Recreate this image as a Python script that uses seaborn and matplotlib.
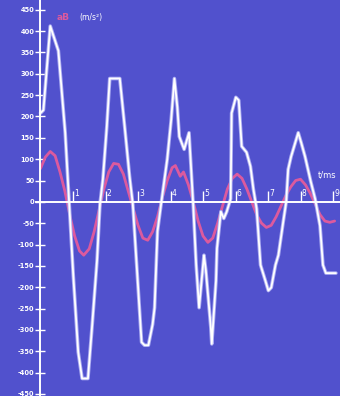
import pandas as pd
import seaborn as sns
import matplotlib.pyplot as plt
import matplotlib.patheffects as pe

# values (t in ms, a in m/s^2)
t_white = [0.0, 0.09, 0.30, 0.55, 0.76, 0.88, 1.01, 1.16, 1.28, 1.46, 1.59, 1.74, 1.83, 1.92,
           2.04, 2.13, 2.44, 2.59, 2.74, 2.84, 3.11, 3.20, 3.32, 3.45, 3.51, 3.60, 3.72, 3.90,
           4.02, 4.12, 4.21, 4.27, 4.42, 4.57, 4.63, 4.70, 4.79, 4.88, 5.03, 5.09, 5.24, 5.27,
           5.40, 5.43, 5.55, 5.64, 5.73, 5.85, 5.88, 6.01, 6.10, 6.19, 6.34, 6.46, 6.55, 6.65,
           6.77, 6.92, 7.01, 7.10, 7.23, 7.32, 7.47, 7.56, 7.62, 7.71, 7.84, 7.93, 8.02, 8.14,
           8.23, 8.32, 8.45, 8.60, 8.69, 8.78, 9.09]
a_white = [208, 215, 412, 354, 162, 0, -174, -352, -414, -414, -289, -137, -5, 53,
           176, 289, 289, 176, 60, -5, -329, -336, -336, -287, -248, -69, 0, 100,
           192, 289, 222, 153, 123, 162, 83, -9, -148, -248, -125, -162, -294, -333,
           -185, -109, -23, -39, -23, 7, 208, 245, 238, 130, 116, 83, 30, -16,
           -148, -185, -208, -201, -148, -125, -46, 0, 76, 106, 139, 162, 139, 106,
           76, 46, 7, -56, -148, -167, -167]

t_pink = [0.0, 0.15, 0.30, 0.45, 0.60, 0.75, 0.90, 1.05, 1.20, 1.33, 1.50, 1.65, 1.80, 1.95,
          2.10, 2.25, 2.40, 2.55, 2.70, 2.85, 3.00, 3.15, 3.30, 3.45, 3.60, 3.75, 3.90, 4.05,
          4.15, 4.30, 4.40, 4.55, 4.70, 4.85, 5.00, 5.15, 5.30, 5.45, 5.60, 5.75, 5.90, 6.05,
          6.20, 6.35, 6.50, 6.65, 6.80, 6.95, 7.10, 7.25, 7.40, 7.55, 7.70, 7.85, 8.00, 8.15,
          8.30, 8.45, 8.60, 8.75, 8.90, 9.05]
a_pink = [78, 105, 118, 108, 70, 25, -30, -80, -115, -125, -110, -70, -20, 30,
          70, 90, 88, 65, 25, -15, -55, -85, -90, -70, -35, 10, 50, 80,
          85, 60, 70, 40, 0, -45, -80, -95, -85, -50, -10, 30, 55, 65,
          55, 30, 0, -30, -50, -60, -55, -35, -10, 15, 35, 50, 53, 40,
          20, -5, -30, -45, -48, -45]

y_ticks = list(range(-450, 451, 50))
x_ticks = list(range(1, 10))

bg = '#5151cd'
pink_col = '#dc5a9e'

sns.set_theme(style='white', rc={'axes.facecolor': bg, 'figure.facecolor': bg})
plt.rcParams['font.family'] = ['DejaVu Sans']

fig = plt.figure(figsize=(3.4, 3.96), dpi=100)
ax = fig.add_axes([0, 0, 1, 1])

white = pd.DataFrame({'t': t_white, 'a': a_white})
pink = pd.DataFrame({'t': t_pink, 'a': a_pink})

sns.lineplot(data=pink, x='t', y='a', color=pink_col, lw=2.0, estimator=None, ax=ax)
sns.lineplot(data=white, x='t', y='a', color='white', lw=1.3, estimator=None, ax=ax,
             path_effects=[pe.Stroke(linewidth=2.6, foreground='#a9aaf2'), pe.Normal()])

ax.set_xlim(-1.246, 9.215)
ax.set_ylim(-455, 473)

# axes through the origin
for s in ['top', 'right']:
    ax.spines[s].set_visible(False)
ax.spines['left'].set_position(('data', 0))
ax.spines['bottom'].set_position(('data', 0))
ax.spines['bottom'].set_bounds(-0.15, 9.3)
for s in ['left', 'bottom']:
    ax.spines[s].set_color('white')
    ax.spines[s].set_linewidth(1.4)

ax.set_yticks(y_ticks)
ax.set_yticklabels([str(v) for v in y_ticks])
ax.tick_params(axis='y', direction='inout', length=7, width=1.0, color='white',
               labelcolor='white', labelsize=4.8, pad=1, left=True)
for lab in ax.get_yticklabels():
    lab.set_fontweight('bold')

ax.set_xticks(x_ticks)
ax.set_xticklabels([])
ax.tick_params(axis='x', direction='in', length=8, width=1.0, color='white', bottom=True)
for v in x_ticks:
    ax.text(v + 0.04, 10, str(v), color='white', fontsize=5.5, ha='left', va='bottom')

ax.set_xlabel('')
ax.set_ylabel('')

ax.text(0.5, 433, 'aB', color=pink_col, fontsize=6.5, fontweight='bold', va='center', ha='left')
ax.text(1.2, 433, '(m/s²)', color='white', fontsize=5.5, va='center', ha='left')
ax.text(8.54, 63, 't/ms', color='white', fontsize=6, va='center', ha='left')

fig.savefig('out.png', dpi=100, facecolor=bg)
